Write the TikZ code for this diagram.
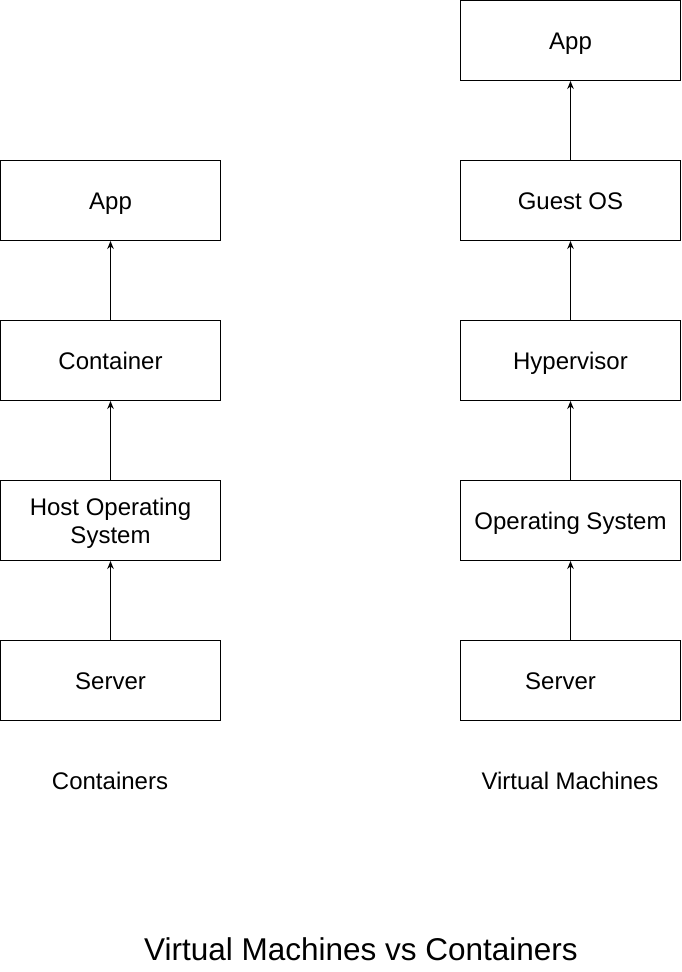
\documentclass[tikz,border=0pt]{standalone}
\usepackage{fontspec}
\setmainfont{Liberation Sans}
\usetikzlibrary{arrows.meta}
\begin{document}
\begin{tikzpicture}[x=1pt,y=-1pt,
  box/.style={draw=black,line width=1pt,minimum width=220pt,minimum height=80pt,inner sep=0pt,font=\fontsize{24}{28}\selectfont,align=center,text height=17.2pt,text depth=0pt},
  twoline/.style={text height=45.2pt},
  lbl/.style={font=\fontsize{24}{28}\selectfont,inner sep=0pt,text height=17.2pt,text depth=0pt},
  arr/.style={line width=1pt,-{Stealth[length=8pt,width=6.5pt]}}]
\useasboundingbox[fill=white] (0,0) rectangle (681,972);
% left column
\node[box] (lapp) at (110.5,200.5) {App};
\node[box] (lcont) at (110.5,360.5) {Container};
\node[box,twoline] (lhost) at (110.5,520.5) {Host Operating\\System};
\node[box] (lserv) at (110.5,680.5) {Server};
% right column
\node[box] (rapp) at (570.5,40.5) {App};
\node[box] (rguest) at (570.5,200.5) {Guest OS};
\node[box] (rhyp) at (570.5,360.5) {Hypervisor};
\node[box] (ros) at (570.5,520.5) {Operating System};
\node[box] (rserv) at (570.5,680.5) {};
\node[lbl] (rservt) at (560.5,680.5) {Server};
% connectors
\draw[arr] (lserv) -- (lhost);
\draw[arr] (lhost) -- (lcont);
\draw[arr] (lcont) -- (lapp);
\draw[arr] (rserv) -- (ros);
\draw[arr] (ros) -- (rhyp);
\draw[arr] (rhyp) -- (rguest);
\draw[arr] (rguest) -- (rapp);
% labels
\node[lbl] (lcap) at (110,781) {Containers};
\node[lbl] (rcap) at (570,781) {Virtual Machines};
\node[font=\fontsize{31.5}{36}\selectfont,inner sep=0pt,text height=22.6pt,text depth=0pt] (title) at (361,949) {Virtual Machines vs Containers};
\end{tikzpicture}
\end{document}
